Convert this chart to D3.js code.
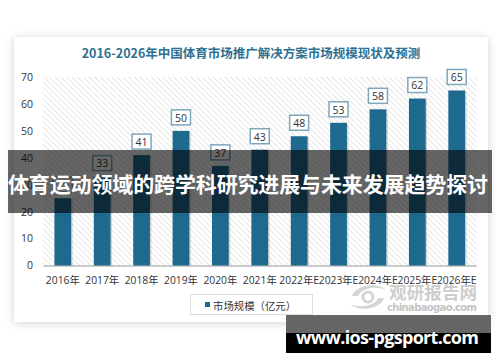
<!DOCTYPE html>
<html><head><meta charset="utf-8">
<script src="https://cdn.jsdelivr.net/npm/d3@7"></script>
<style>html,body{margin:0;padding:0;background:#fff;}svg{display:block;}</style>
</head><body>
<script>
const categories = ["2016年","2017年","2018年","2019年","2020年","2021年","2022年E","2023年E","2024年E","2025年E","2026年E"];
const values = [25, 33, 41, 50, 37, 43, 48, 53, 58, 62, 65];
const yTicks = [0, 10, 20, 30, 40, 50, 60, 70];
const seriesName = "市场规模（亿元）";
const title = "2016-2026年中国体育市场推广解决方案市场规模现状及预测";
const overlayText = "体育运动领域的跨学科研究进展与未来发展趋势探讨";
const siteText = "www.ios-pgsport.com";

const W = 500, H = 362;
const svg = d3.select("body").append("svg").attr("width", W).attr("height", H);
const defs = svg.append("defs");
const sh = defs.append("filter").attr("id","sh").attr("x","-10%").attr("y","-10%").attr("width","120%").attr("height","120%");
sh.append("feDropShadow").attr("dx",0).attr("dy",1).attr("stdDeviation",4).attr("flood-color","#000").attr("flood-opacity",0.18);
const pat = defs.append("pattern").attr("id","hatch").attr("patternUnits","userSpaceOnUse").attr("width",4).attr("height",4).attr("patternTransform","rotate(-45)");
pat.append("rect").attr("width",4).attr("height",4).attr("fill","#fff");
pat.append("line").attr("x1",0).attr("y1",0).attr("x2",0).attr("y2",4).attr("stroke","#dcdcdc").attr("stroke-width",1.4);

// card
svg.append("rect").attr("x",14).attr("y",37).attr("width",474).attr("height",285).attr("fill","#fff").attr("filter","url(#sh)");

svg.append("text").attr("x",251).attr("y",58).attr("text-anchor","middle")
  .attr("font-family","'Noto Sans CJK SC','Noto Sans',sans-serif").attr("font-weight","bold")
  .attr("font-size",12.5).attr("fill","#2f7193").text(title);

const x = d3.scaleBand().domain(categories).range([43, 476.5]).paddingInner(0.575).paddingOuter(0.29);
const y = d3.scaleLinear().domain([0, 70]).range([265.5, 77]);

svg.append("rect").attr("x",43).attr("y",y(70)).attr("width",433.5).attr("height",y(0)-y(70)).attr("fill","url(#hatch)");

// y axis
const yAxis = svg.append("g").attr("transform","translate(43,0)")
  .call(d3.axisLeft(y).tickValues(yTicks).tickSize(0).tickPadding(10));
yAxis.select(".domain").remove();
yAxis.selectAll("text").attr("font-family","'Open Sans','Noto Sans',sans-serif").attr("font-size",10.5).attr("fill","#333");

// x axis
const xAxis = svg.append("g").attr("transform",`translate(0,${y(0)})`)
  .call(d3.axisBottom(x).tickSize(0).tickPadding(11));
xAxis.select(".domain").attr("stroke","#bbb").attr("stroke-width",1.5);
xAxis.selectAll("text").attr("font-family","'Open Sans','Noto Sans CJK SC',sans-serif").attr("font-size",10.3).attr("fill","#333");

// bars
const bw = x.bandwidth();
svg.append("g").selectAll("rect.s").data(values).join("rect")
  .attr("x",(d,i)=>x(categories[i])+1.5).attr("y",d=>y(d)+1).attr("width",bw).attr("height",d=>y(0)-y(d)-1)
  .attr("fill","#000").attr("opacity",0.15);
svg.append("g").selectAll("rect.b").data(values).join("rect")
  .attr("x",(d,i)=>x(categories[i])).attr("y",d=>y(d)).attr("width",bw).attr("height",d=>y(0)-y(d))
  .attr("fill","#1e6a8f");

// labels
const lg = svg.append("g");
values.forEach((d,i)=>{
  const cx = x(categories[i]) + bw/2;
  lg.append("rect").attr("x",cx-9.5).attr("y",y(d)-21).attr("width",19).attr("height",15)
    .attr("fill","#fff").attr("stroke","#7fa7be").attr("stroke-width",1.5);
  lg.append("text").attr("x",cx).attr("y",y(d)-13.2).attr("text-anchor","middle").attr("dominant-baseline","central")
    .attr("font-family","'Open Sans','Noto Sans',sans-serif").attr("font-size",10.5).attr("fill","#333").text(d);
});

// legend
svg.append("rect").attr("x",190.5).attr("y",294.5).attr("width",122).attr("height",20).attr("fill","#fff").attr("stroke","#ddd");
svg.append("rect").attr("x",205).attr("y",302).attr("width",5).attr("height",5).attr("fill","#1e6a8f");
svg.append("text").attr("x",213).attr("y",305).attr("dominant-baseline","central")
  .attr("font-family","'Noto Sans CJK SC',sans-serif").attr("font-size",10.4).attr("fill","#333").text(seriesName);

// watermark
const wm = svg.append("g").attr("fill","#cfcfcf");
wm.append("path").attr("d","M352,296 C356,284 378,282 386,290 C378,286 362,287 358,296 Z").attr("fill","#d5d5d5");
wm.append("path").attr("d","M384,298 C380,310 358,312 350,304 C358,308 374,307 378,298 Z").attr("fill","#d5d5d5");
wm.append("circle").attr("cx",368).attr("cy",297).attr("r",5).attr("fill","none").attr("stroke","#d5d5d5").attr("stroke-width",3);
wm.append("text").attr("x",389).attr("y",299).attr("font-family","'Noto Sans CJK SC',sans-serif").attr("font-weight","bold")
  .attr("font-size",17.5).attr("textLength",88).attr("fill","#cdcdcd").text("观研报告网");
wm.append("text").attr("x",387).attr("y",311).attr("font-family","'DejaVu Sans',sans-serif").attr("font-weight","bold")
  .attr("font-size",10).attr("textLength",90).attr("fill","#c4c4c4").text("chinabaogao.com");

// overlay band
svg.append("rect").attr("x",8).attr("y",150).attr("width",484).attr("height",63).attr("fill","#000").attr("opacity",0.6);
svg.append("text").attr("x",248).attr("y",183).attr("text-anchor","middle").attr("dominant-baseline","central")
  .attr("font-family","'Noto Sans CJK SC',sans-serif").attr("font-weight","bold")
  .attr("font-size",21).attr("textLength",480).attr("fill","#fff").text(overlayText);

// site box
svg.append("rect").attr("x",286).attr("y",315).attr("width",205).attr("height",18).attr("fill","#666");
svg.append("rect").attr("x",286).attr("y",333).attr("width",205).attr("height",20).attr("fill","#000");
svg.append("text").attr("x",296).attr("y",343.5)
  .attr("font-family","'Open Sans','DejaVu Sans',sans-serif").attr("font-weight","bold")
  .attr("font-size",18).attr("textLength",183).attr("fill","#fff").text(siteText);
</script>
</body></html>
